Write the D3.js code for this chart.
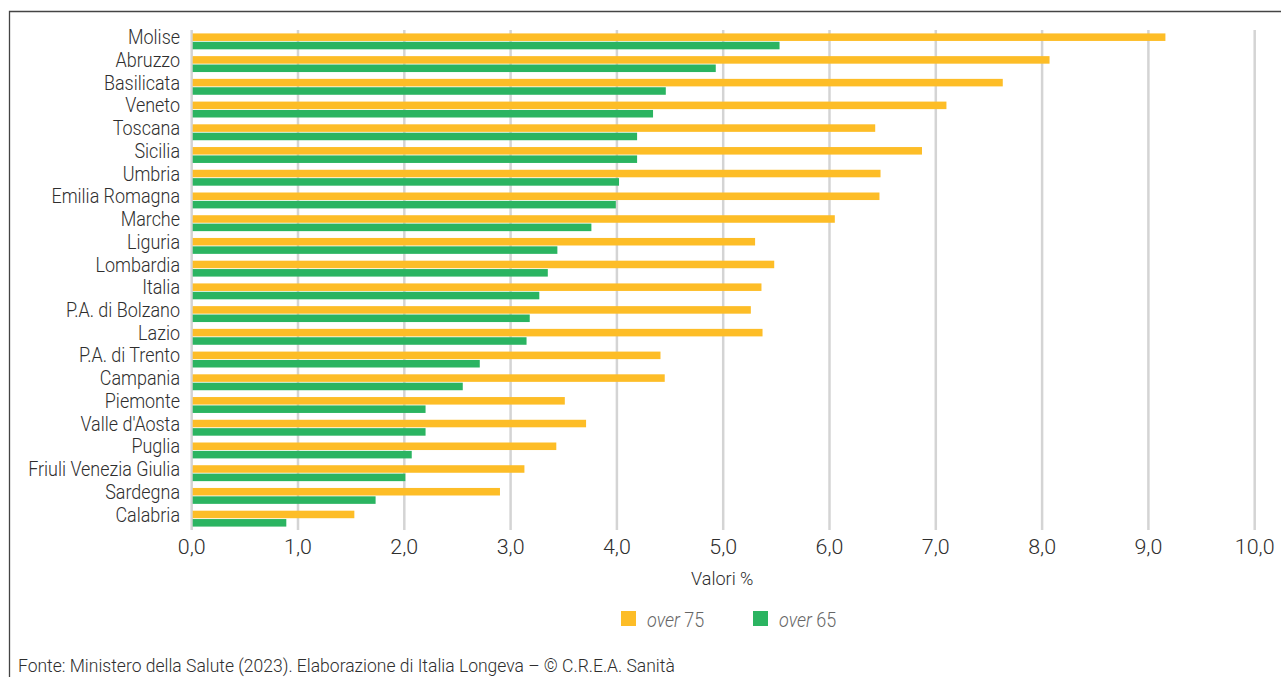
<!DOCTYPE html>
<html><head><meta charset="utf-8">
<script src="https://cdn.jsdelivr.net/npm/d3@7"></script>
<style>
body{margin:0;background:#fff;}
svg{display:block;font-family:"Roboto","Liberation Sans",sans-serif;}
</style></head><body>
<svg id="c" width="1281" height="677"></svg>
<script>
const regions = ["Molise","Abruzzo","Basilicata","Veneto","Toscana","Sicilia","Umbria","Emilia Romagna","Marche","Liguria","Lombardia","Italia","P.A. di Bolzano","Lazio","P.A. di Trento","Campania","Piemonte","Valle d'Aosta","Puglia","Friuli Venezia Giulia","Sardegna","Calabria"];
const over75 = [9.16,8.07,7.63,7.10,6.43,6.87,6.48,6.47,6.05,5.30,5.48,5.36,5.26,5.37,4.41,4.45,3.51,3.71,3.43,3.13,2.90,1.53];
const over65 = [5.53,4.93,4.46,4.34,4.19,4.19,4.02,3.99,3.76,3.44,3.35,3.27,3.18,3.15,2.71,2.55,2.20,2.20,2.07,2.01,1.73,0.89];
const xTicks = [0,1,2,3,4,5,6,7,8,9,10];
const seriesNames = ["over75","over65"];
const seriesLabels = [{it:"over",num:"75"},{it:"over",num:"65"}];
const colors = {over75:"#FDBD27", over65:"#2BB461"};
const sourceText = "Fonte: Ministero della Salute (2023). Elaborazione di Italia Longeva – © C.R.E.A. Sanità";

const svg = d3.select("#c");
svg.append("path").attr("d","M9.5,677 L9.5,11.5 L1281,11.5").attr("fill","none").attr("stroke","#444").attr("stroke-width",1.3);

const x = d3.scaleLinear().domain([0,10]).range([191.7,1254.7]);
const y = d3.scaleBand().domain(regions).range([30,530]).paddingInner(0.3).paddingOuter(0.15);
const ys = d3.scaleBand().domain(seriesNames).range([0,y.bandwidth()]).paddingInner(0.1);

svg.append("g").selectAll("line").data(xTicks).join("line")
  .attr("x1",d=>x(d)).attr("x2",d=>x(d)).attr("y1",30).attr("y2",530)
  .attr("stroke","#d4d4d4").attr("stroke-width",2.5);

const data = regions.map((r,i)=>({r, over75:over75[i], over65:over65[i]}));
const g = svg.append("g");
seriesNames.forEach(s=>{
  g.selectAll("rect."+s).data(data).join("rect").attr("class",s)
   .attr("x",x(0)+1).attr("y",d=>y(d.r)+ys(s))
   .attr("width",d=>x(d[s])-x(0)-1).attr("height",ys.bandwidth())
   .attr("fill",colors[s]);
});

const SX = 0.875;
svg.append("g").selectAll("text").data(regions).join("text")
  .attr("transform",d=>`translate(180,${y(d)+y.bandwidth()/2-2.5}) scale(${SX},1)`)
  .attr("text-anchor","end").attr("dominant-baseline","middle")
  .attr("font-size",20.5).attr("font-weight",300).attr("fill","#2e2e2e").text(d=>d);

svg.append("g").selectAll("text").data(xTicks).join("text")
  .attr("transform",d=>`translate(${x(d)},554) scale(1.02,1)`).attr("text-anchor","middle")
  .attr("font-size",21).attr("font-weight",300).attr("fill","#2e2e2e").text(d=>d3.format(".1f")(d).replace(".",","));

svg.append("text").attr("transform",`translate(${x(5)-1},585) scale(0.95,1)`).attr("text-anchor","middle")
  .attr("font-size",19).attr("font-weight",300).attr("fill","#2e2e2e").text("Valori %");

const legX = [621,753];
seriesNames.forEach((s,i)=>{
  svg.append("rect").attr("x",legX[i]).attr("y",611).attr("width",15).attr("height",15).attr("fill",colors[s]);
  const t = svg.append("text").attr("transform",`translate(${legX[i]+26},627) scale(0.9,1)`).attr("font-size",20).attr("font-weight",300).attr("fill","#666");
  t.append("tspan").attr("font-style","italic").text(seriesLabels[i].it+" ");
  t.append("tspan").text(seriesLabels[i].num);
});

svg.append("text").attr("transform","translate(18,672) scale(0.947,1)").attr("font-size",18.5).attr("font-weight",300).attr("fill","#2e2e2e").text(sourceText);
</script>
</body></html>
